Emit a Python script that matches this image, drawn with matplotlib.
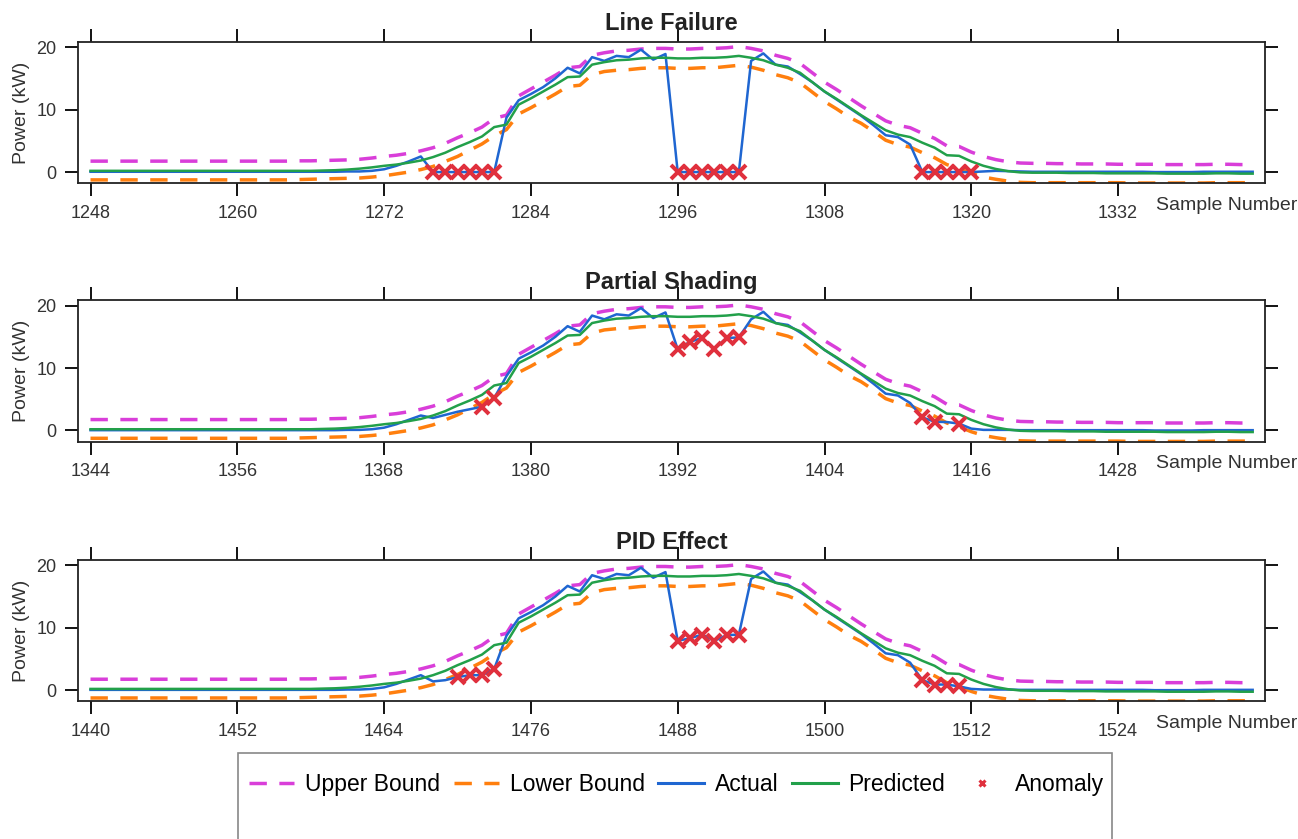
import matplotlib
matplotlib.use('Agg')

import matplotlib.pyplot as plt
from matplotlib.lines import Line2D
from matplotlib.patches import Rectangle
import numpy as np

plt.rcParams['font.family'] = ['Liberation Sans', 'DejaVu Sans']

# first sample number of each panel (96 samples per panel)
panel_starts = [1248, 1344, 1440]
panel_titles = ["Line Failure", "Partial Shading", "PID Effect"]
n_samples = 96

# predicted power (kW), same day profile in every panel
predicted = [0.2, 0.2, 0.2, 0.2, 0.2, 0.2, 0.2, 0.2, 0.2, 0.2,
             0.2, 0.2, 0.2, 0.2, 0.2, 0.2, 0.2, 0.2, 0.2, 0.25,
             0.3, 0.4, 0.55, 0.75, 1.0, 1.2, 1.5, 1.85, 2.4, 3.1,
             4.0, 4.8, 5.7, 7.2, 7.6, 10.8, 11.8, 12.9, 14.0, 15.2,
             15.3, 17.2, 17.6, 17.9, 18.0, 18.2, 18.3, 18.3, 18.2, 18.2,
             18.3, 18.3, 18.4, 18.6, 18.3, 17.9, 17.2, 16.7, 15.9, 14.4,
             12.9, 11.7, 10.4, 9.1, 7.9, 6.7, 6.0, 5.6, 4.7, 3.9,
             2.7, 2.6, 1.7, 1.0, 0.5, 0.15, -0.05, -0.1, -0.1, -0.1,
             -0.15, -0.15, -0.15, -0.2, -0.2, -0.2, -0.2, -0.2, -0.25, -0.25,
             -0.25, -0.25, -0.2, -0.2, -0.25, -0.25]

upper = [1.75, 1.75, 1.75, 1.75, 1.75, 1.75, 1.75, 1.75, 1.75, 1.75,
         1.75, 1.75, 1.75, 1.75, 1.75, 1.75, 1.75, 1.8, 1.8, 1.85,
         1.9, 1.95, 2.05, 2.25, 2.5, 2.7, 3.0, 3.4, 3.9, 4.6,
         5.5, 6.3, 7.2, 8.6, 9.1, 12.2, 13.3, 14.4, 15.5, 16.7,
         16.9, 18.7, 19.1, 19.4, 19.5, 19.7, 19.8, 19.8, 19.7, 19.7,
         19.8, 19.8, 19.9, 20.1, 19.8, 19.4, 18.7, 18.2, 17.4, 15.9,
         14.4, 13.2, 11.9, 10.6, 9.4, 8.2, 7.5, 7.1, 6.2, 5.4,
         4.2, 4.1, 3.2, 2.5, 2.0, 1.65, 1.45, 1.4, 1.4, 1.35,
         1.35, 1.3, 1.3, 1.3, 1.25, 1.25, 1.25, 1.25, 1.2, 1.2,
         1.2, 1.2, 1.25, 1.25, 1.2, 1.2]

lower = [-1.25, -1.25, -1.25, -1.25, -1.25, -1.25, -1.25, -1.25, -1.25, -1.25,
         -1.25, -1.25, -1.25, -1.25, -1.25, -1.25, -1.25, -1.2, -1.15, -1.1,
         -1.05, -1.0, -0.95, -0.8, -0.6, -0.3, 0.0, 0.4, 0.9, 1.7,
         2.5, 3.5, 4.5, 5.8, 6.8, 9.3, 10.3, 11.4, 12.5, 13.7,
         13.9, 15.6, 16.1, 16.3, 16.4, 16.6, 16.7, 16.7, 16.6, 16.6,
         16.7, 16.7, 16.9, 17.1, 16.8, 16.3, 15.6, 15.1, 14.3, 12.8,
         11.3, 10.1, 8.8, 7.8, 6.5, 5.1, 4.4, 4.0, 3.1, 2.3,
         1.2, 0.6, -0.2, -0.8, -1.15, -1.45, -1.65, -1.7, -1.7, -1.7,
         -1.7, -1.7, -1.7, -1.7, -1.7, -1.75, -1.75, -1.75, -1.75, -1.75,
         -1.75, -1.75, -1.7, -1.7, -1.7, -1.7]

# measured power (kW) per panel
actual_failure = [0.05, 0.05, 0.05, 0.05, 0.05, 0.05, 0.05, 0.05, 0.05, 0.05,
                  0.05, 0.05, 0.05, 0.05, 0.05, 0.05, 0.05, 0.05, 0.05, 0.05,
                  0.05, 0.1, 0.1, 0.2, 0.45, 1.0, 1.7, 2.5, 0.0, 0.0,
                  0.0, 0.0, 0.0, 0.0, 8.7, 11.5, 12.5, 13.6, 15.0, 16.7,
                  15.8, 18.4, 17.8, 18.6, 18.4, 19.6, 18.0, 18.9, 0.0, 0.0,
                  0.0, 0.0, 0.0, 0.0, 17.8, 19.0, 17.2, 16.9, 15.7, 14.4,
                  12.9, 11.6, 10.3, 9.0, 7.5, 5.9, 5.6, 4.4, 0.0, 0.0,
                  0.0, 0.0, 0.0, 0.1, 0.2, 0.15, 0.1, 0.05, 0.05, 0.05,
                  0.05, 0.05, 0.05, 0.05, 0.05, 0.05, 0.05, 0.0, 0.0, 0.0,
                  0.0, 0.05, 0.05, 0.05, 0.05, 0.05]

actual_shading = [0.05, 0.05, 0.05, 0.05, 0.05, 0.05, 0.05, 0.05, 0.05, 0.05,
                  0.05, 0.05, 0.05, 0.05, 0.05, 0.05, 0.05, 0.05, 0.05, 0.05,
                  0.05, 0.1, 0.1, 0.2, 0.45, 1.0, 1.7, 2.4, 2.0, 2.5,
                  3.0, 3.4, 3.8, 5.2, 8.7, 11.5, 12.5, 13.6, 15.0, 16.7,
                  15.8, 18.4, 17.8, 18.6, 18.4, 19.6, 18.0, 18.9, 13.0, 14.2,
                  14.8, 13.1, 14.8, 14.9, 17.8, 19.0, 17.2, 16.9, 15.7, 14.4,
                  12.9, 11.6, 10.3, 9.0, 7.5, 5.9, 5.6, 4.4, 2.1, 1.4,
                  1.35, 1.1, 0.3, 0.1, 0.1, 0.1, 0.05, 0.05, 0.05, 0.05,
                  0.05, 0.05, 0.05, 0.05, 0.05, 0.05, 0.05, 0.0, 0.0, 0.0,
                  0.0, 0.05, 0.05, 0.05, 0.05, 0.05]

actual_pid = [0.05, 0.05, 0.05, 0.05, 0.05, 0.05, 0.05, 0.05, 0.05, 0.05,
              0.05, 0.05, 0.05, 0.05, 0.05, 0.05, 0.05, 0.05, 0.05, 0.05,
              0.05, 0.1, 0.1, 0.2, 0.45, 1.0, 1.7, 2.4, 1.4, 1.6,
              2.1, 2.4, 2.4, 3.4, 8.7, 11.5, 12.5, 13.6, 15.0, 16.7,
              15.8, 18.4, 17.8, 18.6, 18.4, 19.6, 18.0, 18.9, 7.9, 8.3,
              8.9, 7.9, 8.8, 8.9, 17.8, 19.0, 17.2, 16.9, 15.7, 14.4,
              12.9, 11.6, 10.3, 9.0, 7.5, 5.9, 5.6, 4.4, 1.6, 0.9,
              0.9, 0.6, 0.2, 0.1, 0.1, 0.1, 0.05, 0.05, 0.05, 0.05,
              0.05, 0.05, 0.05, 0.05, 0.05, 0.05, 0.05, 0.0, 0.0, 0.0,
              0.0, 0.05, 0.05, 0.05, 0.05, 0.05]

# sample numbers flagged as anomalies
anomaly_failure = [1276, 1277, 1278, 1279, 1280, 1281,
                   1296, 1297, 1298, 1299, 1300, 1301,
                   1316, 1317, 1318, 1319, 1320]
anomaly_shading = [1376, 1377,
                   1392, 1393, 1394, 1395, 1396, 1397,
                   1412, 1413, 1415]
anomaly_pid = [1470, 1471, 1472, 1473,
               1488, 1489, 1490, 1491, 1492, 1493,
               1508, 1509, 1510, 1511]

actuals = [actual_failure, actual_shading, actual_pid]
anomalies = [anomaly_failure, anomaly_shading, anomaly_pid]

c_upper = '#d93ed9'
c_lower = '#ff7f0e'
c_actual = '#1f66d1'
c_pred = '#22a04a'
c_anom = '#e0303d'
dash = (0, (5, 3.6))

fig = plt.figure(figsize=(12.98, 8.39), dpi=100)
bottoms = [0.7815, 0.4735, 0.1640]

for i in range(3):
    ax = fig.add_axes([0.0603, bottoms[i], 0.9142, 0.169])
    start = panel_starts[i]
    x = np.arange(start, start + n_samples)
    act = np.array(actuals[i])

    ax.plot(x, upper, color=c_upper, lw=2.5, linestyle=dash)
    ax.plot(x, lower, color=c_lower, lw=2.5, linestyle=dash)
    ax.plot(x, act, color=c_actual, lw=1.8)
    ax.plot(x, predicted, color=c_pred, lw=1.8)
    idx = np.array(anomalies[i]) - start
    ax.plot(anomalies[i], act[idx], linestyle='none', marker='x',
            color=c_anom, ms=10.5, mew=2.9, zorder=5)

    ax.set_xlim(start - 1, start + n_samples)
    ax.set_ylim(-1.8, 20.9)
    ax.set_xticks(np.arange(start, start + n_samples, 12))
    ax.set_yticks([0, 10, 20])
    ax.tick_params(direction='out', length=9.5, width=1.3, top=True, right=True,
                   labeltop=False, labelright=False, labelsize=13,
                   labelcolor='#333333', pad=6)
    for s in ax.spines.values():
        s.set_linewidth(1.3)
        s.set_color('#222222')

    ax.set_title(panel_titles[i], fontsize=17, fontweight='bold', color='#222222',
                 y=1.0, pad=8)
    ax.set_ylabel('Power (kW)', fontsize=14, color='#333333', labelpad=5)
    ax.set_xlabel('Sample Number', fontsize=14, color='#333333', loc='right')
    ax.xaxis.set_label_coords(1.027, -0.095)

handles = [
    Line2D([], [], color=c_upper, lw=2.5, linestyle=dash),
    Line2D([], [], color=c_lower, lw=2.5, linestyle=dash),
    Line2D([], [], color=c_actual, lw=2.2),
    Line2D([], [], color=c_pred, lw=2.2),
    Line2D([], [], color=c_anom, linestyle='none', marker='x', ms=5, mew=2.2),
]
labels = ['Upper Bound', 'Lower Bound', 'Actual', 'Predicted', 'Anomaly']
fig.legend(handles, labels, loc='center', bbox_to_anchor=(0.521, 0.0645),
           ncol=5, frameon=False, fontsize=16.5, handlelength=2.0,
           handletextpad=0.45, columnspacing=0.6)
fig.add_artist(Rectangle((238 / 1298, -0.1), (1112 - 238) / 1298, 0.2025,
                         transform=fig.transFigure, fill=False,
                         edgecolor='#888888', lw=1.2, clip_on=False))

fig.savefig('out.png', dpi=100)
